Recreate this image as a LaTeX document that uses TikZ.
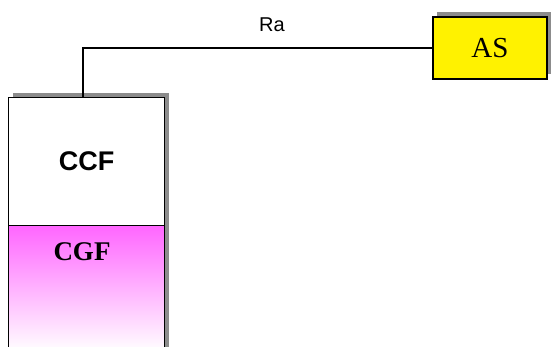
\documentclass[tikz,border=0pt]{standalone}
\usepackage{fontspec}
\setmainfont{Liberation Serif}
\setsansfont{Liberation Sans}
\usetikzlibrary{shadows}

\definecolor{cgfpink}{RGB}{255,102,255}
\definecolor{shadowgray}{RGB}{140,140,140}

\begin{document}
\begin{tikzpicture}[x=1pt,y=-1pt,
  fbox/.style={draw,line width=1.2pt,rectangle,inner sep=0pt,
    general shadow={fill=shadowgray,shadow xshift=4pt,shadow yshift=5pt}},
  wire/.style={line width=1.2pt}]
\useasboundingbox (0,0) rectangle (551,347);
\node[fbox,top color=cgfpink,bottom color=white,minimum width=156pt,minimum height=126pt,anchor=north west] (cgf) at (8,225) {};
\node[font=\fontsize{27}{30}\selectfont\bfseries] (cgflabel) at (82,252) {CGF};
\node[fbox,fill=white,minimum width=156pt,minimum height=128pt,anchor=north west,font=\fontsize{27}{30}\selectfont\sffamily\bfseries] (ccf) at (8,97) {CCF};
\node[fbox,fill=yellow,minimum width=114pt,minimum height=62pt,font=\fontsize{29}{32}\selectfont] (as) at (490,48) {AS};
\draw[wire] ([xshift=75pt]ccf.north west) |- (as.west);
\node[font=\fontsize{20}{22}\selectfont\sffamily] (ra) at (272,25) {Ra};
\end{tikzpicture}
\end{document}
